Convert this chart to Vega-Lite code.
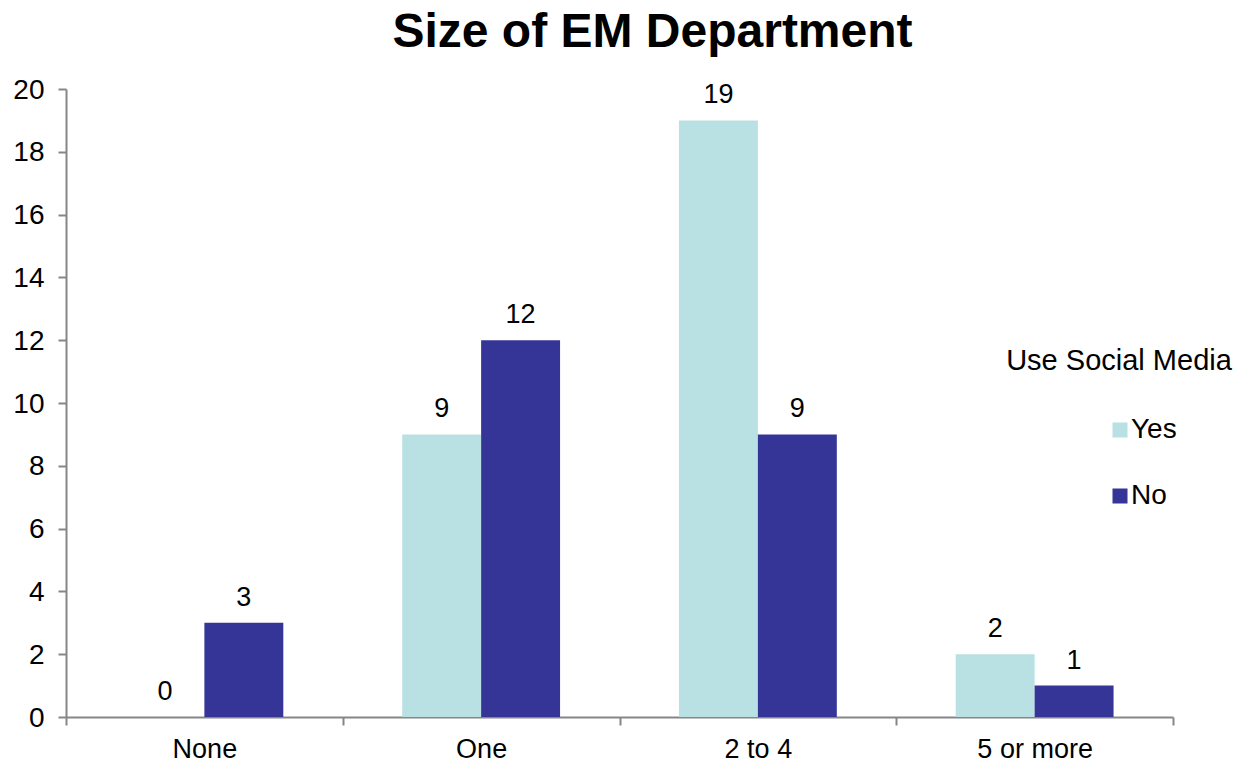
{
  "$schema": "https://vega.github.io/schema/vega-lite/v6.json",
  "width": 1107,
  "height": 628,
  "autosize": "none",
  "padding": {"left": 66, "top": 89, "right": 61, "bottom": 45},
  "background": "white",
  "title": {
    "text": "Size of EM Department",
    "font": "Liberation Sans",
    "fontSize": 48,
    "fontWeight": "bold",
    "color": "#000000",
    "anchor": "middle",
    "dx": 33,
    "offset": 19
  },
  "data": {
    "values": [
      {"size": "None", "social": "Yes", "count": 0},
      {"size": "None", "social": "No", "count": 3},
      {"size": "One", "social": "Yes", "count": 9},
      {"size": "One", "social": "No", "count": 12},
      {"size": "2 to 4", "social": "Yes", "count": 19},
      {"size": "2 to 4", "social": "No", "count": 9},
      {"size": "5 or more", "social": "Yes", "count": 2},
      {"size": "5 or more", "social": "No", "count": 1}
    ]
  },
  "encoding": {
    "x": {
      "field": "size",
      "type": "nominal",
      "sort": ["None", "One", "2 to 4", "5 or more"],
      "scale": {"paddingInner": 0, "paddingOuter": 0},
      "axis": {
        "title": null,
        "labelAngle": 0,
        "tickBand": "extent",
        "domainColor": "#868686",
        "domainWidth": 2,
        "tickColor": "#868686",
        "tickWidth": 2,
        "tickSize": 8,
        "labelFont": "Liberation Sans",
        "labelFontSize": 27,
        "labelColor": "#000000",
        "labelPadding": 11
      }
    },
    "xOffset": {
      "field": "social",
      "type": "nominal",
      "sort": ["Yes", "No"],
      "scale": {"paddingInner": 0, "paddingOuter": 0.753}
    },
    "y": {
      "field": "count",
      "type": "quantitative",
      "scale": {"domain": [0, 20], "nice": false},
      "axis": {
        "title": null,
        "values": [0, 2, 4, 6, 8, 10, 12, 14, 16, 18, 20],
        "grid": false,
        "domainColor": "#868686",
        "domainWidth": 2,
        "tickColor": "#868686",
        "tickWidth": 2,
        "tickSize": 8,
        "labelFont": "Liberation Sans",
        "labelFontSize": 28,
        "labelColor": "#000000",
        "labelPadding": 14,
        "labelOffset": 1
      }
    }
  },
  "layer": [
    {
      "mark": {"type": "bar"},
      "encoding": {
        "color": {
          "field": "social",
          "type": "nominal",
          "sort": ["Yes", "No"],
          "scale": {"domain": ["Yes", "No"], "range": ["#B9E0E3", "#353598"]},
          "legend": {
            "title": "Use Social Media",
            "orient": "none",
            "legendX": 940,
            "legendY": 258,
            "symbolType": "square",
            "symbolSize": 225,
            "symbolStrokeWidth": 0,
            "symbolOffset": -13,
            "titleFont": "Liberation Sans",
            "titleFontSize": 29,
            "titleFontWeight": "normal",
            "titleColor": "#000000",
            "titleAlign": "center",
            "titleAnchor": "start",
            "titleLimit": 400,
            "titlePadding": 40,
            "labelFont": "Liberation Sans",
            "labelFontSize": 28,
            "labelColor": "#000000",
            "rowPadding": 38,
            "labelOffset": -3
          }
        }
      }
    },
    {
      "mark": {
        "type": "text",
        "baseline": "bottom",
        "dy": -11,
        "font": "Liberation Sans",
        "fontSize": 27,
        "color": "#000000"
      },
      "encoding": {"text": {"field": "count", "type": "quantitative"}}
    }
  ],
  "config": {"view": {"stroke": null}}
}
